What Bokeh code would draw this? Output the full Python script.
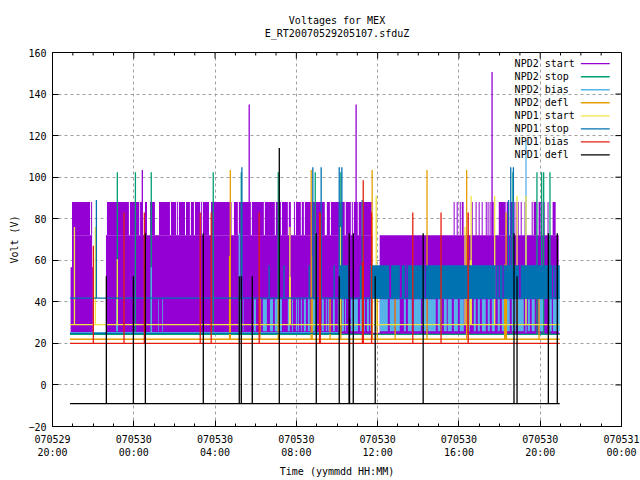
from bokeh.plotting import figure
from bokeh.embed import file_html
from bokeh.resources import INLINE
from bokeh.models import FixedTicker, Label, Range1d, Title

FONT = "DejaVu Sans Mono"
# x values: hours after 070529 20:00
x_major = [0, 4, 8, 12, 16, 20, 24, 28]
x_minor = [h for h in range(29) if h % 4]
x_labels = ["070529\n20:00", "070530\n00:00", "070530\n04:00", "070530\n08:00",
            "070530\n12:00", "070530\n16:00", "070530\n20:00", "070531\n00:00"]
y_major = [-20, 0, 20, 40, 60, 80, 100, 120, 140, 160]

names = ["NPD2 start", "NPD2 stop", "NPD2 bias", "NPD2 defl",
         "NPD1 start", "NPD1 stop", "NPD1 bias", "NPD1 defl"]
colors = ["#9400D3", "#009E73", "#56B4E9", "#E69F00",
          "#F0E442", "#0072B2", "#E51E10", "#000000"]

T0, T1 = 0.86, 24.96

# NPD2 start
npd2_start_low = [(0.96, 1.95), (2.63, 15.76), (16.10, 24.91)]
npd2_start_mid = [(0.89, 0.96), (1.95, 2.00)]
npd2_start_high = [(0.96, 1.85), (1.90, 1.95), (2.68, 3.76), (3.81, 4.27), (4.31, 4.45), (4.55, 4.65),
    (4.80, 5.04), (5.24, 5.78), (5.83, 6.08), (6.12, 6.17), (6.22, 6.52), (6.57, 6.76), (6.81, 6.96),
    (7.01, 7.26), (7.30, 7.35), (7.40, 7.70), (7.80, 8.81), (8.93, 9.12), (9.17, 9.76), (9.81, 10.40),
    (10.45, 10.94), (10.99, 11.24), (11.29, 11.58), (11.63, 11.73), (11.88, 11.93), (11.98, 12.22),
    (12.27, 12.37), (12.42, 13.40), (13.50, 13.65), (13.70, 14.38), (14.43, 14.68), (14.73, 14.78),
    (14.83, 15.02), (15.07, 15.22), (15.27, 15.71), (19.74, 19.79), (19.89, 19.94), (20.04, 20.09),
    (20.14, 20.23), (20.63, 20.68), (20.82, 20.87), (20.97, 21.02), (21.12, 21.17), (21.32, 21.37),
    (21.41, 21.46), (21.51, 21.56), (21.61, 21.71), (21.96, 22.30), (22.35, 22.45), (22.50, 22.74),
    (22.79, 22.84), (22.89, 22.94), (23.04, 23.09), (23.23, 23.28), (23.58, 23.63), (23.68, 23.82),
    (23.92, 24.02), (24.12, 24.22), (24.36, 24.41), (24.61, 24.76)]
npd2_start_spike_t = [4.42, 9.68, 14.94, 21.63]
npd2_start_spike_v = [103.4, 135, 135, 150.6]

# NPD2 stop
npd2_stop_spike_t = [3.19, 4.08, 4.86, 7.91, 9.29, 11.11, 12.93, 14.19, 22.66, 23.84, 24.07, 24.17, 24.48]
npd2_stop_spike_v = [102.4] * 13

# NPD2 bias
npd2_bias_blocks = [(3.13, 3.22), (5.21, 5.24), (5.40, 5.44), (9.22, 9.27), (9.37, 9.40), (9.91, 10.01),
    (10.35, 10.55), (10.70, 10.85), (10.94, 11.29), (11.58, 11.68), (11.78, 11.83), (11.98, 12.03),
    (12.07, 12.12), (12.22, 12.27), (12.37, 12.47), (12.57, 12.66), (12.76, 12.91), (13.25, 13.35),
    (13.45, 13.50), (13.55, 13.60), (13.80, 13.89), (14.04, 14.09), (14.24, 14.34), (14.39, 14.44),
    (14.68, 15.03), (15.13, 15.23), (15.32, 15.37), (15.47, 15.57), (15.62, 15.67), (15.86, 15.95),
    (16.11, 16.50), (16.60, 16.83), (16.90, 17.09), (17.29, 17.39), (17.49, 17.68), (17.78, 18.13),
    (18.22, 18.42), (18.47, 18.86), (18.96, 19.16), (19.26, 19.40), (19.45, 19.65), (19.75, 19.95),
    (20.04, 20.24), (20.44, 20.54), (20.73, 20.83), (20.93, 21.03), (21.13, 21.32), (21.42, 21.52),
    (21.62, 21.77), (21.91, 22.01), (22.11, 22.50), (22.60, 22.80), (22.90, 23.19), (23.39, 23.49),
    (23.58, 23.73), (23.93, 24.14), (24.47, 24.57), (24.63, 24.83), (24.86, 24.96)]
npd2_bias_spike_t = [4.86, 9.19, 23.30]
npd2_bias_spike_v = [56.7, 73, 117.8]

# NPD2 defl
npd2_defl_blocks = [(8.68, 8.78, 62), (12.75, 12.81, 62), (22.27, 22.37, 41.5)]
npd2_defl_spike_t = [8.75, 12.73, 15.73, 18.43, 20.38, 22.32, 10.21, 11.11, 13.66, 14.19, 15.98, 16.86, 23.94, 22.25]
npd2_defl_spike_v = [103.4, 103.4, 103.4, 103.4, 103.4, 83, 41.5, 41.5, 41.5, 41.5, 41.5, 41.5, 41.5, 58]

# NPD1 start
npd1_start_blocks = [(11.64, 11.73, 52), (20.53, 20.63, 60)]
npd1_start_spike_t = [1.08, 2.11, 3.19, 11.68, 14.16, 15.93, 20.30, 20.60, 21.76, 22.86, 23.30]
npd1_start_spike_v = [76, 76, 60.5, 76, 76, 91, 76, 91, 91, 91, 91]

# NPD1 stop
npd1_stop_blocks = [(14.14, 14.55), (15.12, 15.22), (15.62, 16.57), (16.66, 17.09), (17.19, 17.34),
    (17.39, 17.43), (17.48, 18.32), (18.37, 21.81), (21.86, 21.96), (22.01, 22.15), (22.20, 22.96),
    (23.04, 24.58), (24.63, 24.71), (24.76, 24.96)]
npd1_stop_spike_t = [2.16, 9.32, 12.81, 13.22, 14.11, 14.24, 15.24, 10.66, 11.39, 12.63, 13.86, 22.44, 22.55, 22.68]
npd1_stop_spike_v = [89, 104.8, 104.8, 104.8, 104.8, 104.8, 89, 57.6, 57.6, 57.6, 57.6, 89, 104.8, 104.8]

# NPD1 bias
npd1_bias_blocks = [(13.11, 13.21, 83), (15.22, 15.32, 59), (20.42, 20.49, 83)]
npd1_bias_spike_t = [2.01, 3.52, 4.52, 7.27, 7.81, 10.17, 15.29, 15.70, 17.73, 19.12]
npd1_bias_spike_v = [67, 83, 83, 83, 83, 83, 98.5, 83, 83, 83]

# NPD1 defl
npd1_defl_blocks = [(14.58, 14.65, 32)]
npd1_defl_spike_t = [2.65, 3.98, 4.57, 7.42, 9.19, 9.29, 9.83, 11.16, 12.98, 14.11, 14.60, 14.80, 15.88, 18.24, 22.71, 22.86, 24.40, 24.84]
npd1_defl_spike_v = [52.3, 52.3, 73, 73, 52.3, 52.3, 52.3, 114, 73, 52.3, 73, 73, 52.3, 73, 73, 52.3, 73, 73]

p = figure(frame_width=569, frame_height=374, output_backend="svg", toolbar_location=None,
           x_range=Range1d(0, 28), y_range=Range1d(-20, 160),
           min_border_left=52, min_border_right=19, min_border_top=52, min_border_bottom=54)
p.outline_line_color = "black"
p.outline_line_width = 1
p.background_fill_color = "white"
p.border_fill_color = "white"

def style_axis(ax, major, minor):
    ax.ticker = FixedTicker(ticks=major, minor_ticks=minor)
    ax.major_tick_in = 6
    ax.major_tick_out = 0
    ax.minor_tick_in = 3
    ax.minor_tick_out = 0
    ax.axis_line_color = "black"
    ax.major_tick_line_color = "black"
    ax.minor_tick_line_color = "black"
    ax.major_label_text_font = FONT
    ax.major_label_text_font_size = "10px"
    ax.major_label_text_color = "black"
    ax.axis_label_text_font = FONT
    ax.axis_label_text_font_size = "10px"
    ax.axis_label_text_font_style = "normal"
    ax.axis_label_text_color = "black"

style_axis(p.xaxis[0], x_major, x_minor)
p.xaxis[0].major_label_overrides = dict(zip(x_major, x_labels))
p.xaxis[0].major_label_standoff = 7
p.xaxis[0].axis_label = "Time (yymmdd HH:MM)"
p.xaxis[0].axis_label_standoff = 5
style_axis(p.yaxis[0], y_major, [])
p.yaxis[0].major_label_standoff = 6
p.yaxis[0].axis_label = "Volt (V)"
p.yaxis[0].axis_label_standoff = 5

p.add_layout(Title(text="\u00a0\u00a0\u00a0\u00a0Voltages for MEX\nE_RT20070529205107.sfduZ", align="center",
                   text_font=FONT, text_font_size="10px", text_font_style="normal",
                   text_color="black", text_line_height=1.2, standoff=26), "above")

for g in (p.xgrid[0], p.ygrid[0]):
    g.grid_line_color = "#a0a0a0"
    g.grid_line_dash = "3 3"
    g.grid_line_width = 1
p.xgrid[0].ticker = FixedTicker(ticks=x_major[1:-1])
p.ygrid[0].ticker = FixedTicker(ticks=y_major[1:-1])

LW = 1.3

def base(color, level, t0=T0, t1=T1):
    p.line([t0, t1], [level, level], line_color=color, line_width=LW)

def band(color, spans, low, high):
    p.quad(left=[s[0] for s in spans], right=[s[1] for s in spans],
           bottom=[low] * len(spans), top=[high] * len(spans),
           fill_color=color, line_color=None)

def tall(color, blocks, low):
    p.quad(left=[b[0] for b in blocks], right=[b[1] for b in blocks],
           bottom=[low] * len(blocks), top=[b[2] for b in blocks],
           fill_color=color, line_color=None)

def spikes(color, ts, vs, low):
    p.segment(x0=ts, x1=ts, y0=[low] * len(ts), y1=vs, line_color=color, line_width=LW)

# Mirrored ticks on the top and right sides of the box
p.segment(x0=x_major, x1=x_major, y0=[160] * 8, y1=[157.1] * 8, line_color="black", line_width=1)
p.segment(x0=x_minor, x1=x_minor, y0=[160] * len(x_minor), y1=[158.55] * len(x_minor), line_color="black", line_width=1)
p.segment(x0=[28] * 10, x1=[27.7] * 10, y0=y_major, y1=y_major, line_color="black", line_width=1)

# NPD2 start
c = colors[0]
base(c, 24.8)
band(c, npd2_start_low, 24.8, 72)
band(c, npd2_start_mid, 24.8, 56.7)
band(c, npd2_start_high, 72, 88)
spikes(c, npd2_start_spike_t, npd2_start_spike_v, 24.8)
# NPD2 stop
c = colors[1]
base(c, 24.3)
spikes(c, npd2_stop_spike_t, npd2_stop_spike_v, 24.3)
# NPD2 bias
c = colors[2]
base(c, 25.2, T0, 14.14)
band(c, npd2_bias_blocks, 25.8, 41.2)
spikes(c, npd2_bias_spike_t, npd2_bias_spike_v, 25.2)
# NPD2 defl
c = colors[3]
base(c, 22)
tall(c, npd2_defl_blocks, 22)
spikes(c, npd2_defl_spike_t, npd2_defl_spike_v, 22)
# NPD1 start
c = colors[4]
base(c, 29)
tall(c, npd1_start_blocks, 29)
spikes(c, npd1_start_spike_t, npd1_start_spike_v, 29)
# NPD1 stop
c = colors[5]
base(c, 41.8)
base(c, 24.8, T0, 14.14)
band(c, npd1_stop_blocks, 41.5, 57.6)
spikes(c, npd1_stop_spike_t, npd1_stop_spike_v, 41.8)
# NPD1 bias
c = colors[6]
base(c, 20)
tall(c, npd1_bias_blocks, 20)
spikes(c, npd1_bias_spike_t, npd1_bias_spike_v, 20)
# NPD1 defl
c = colors[7]
base(c, -9)
tall(c, npd1_defl_blocks, -9)
spikes(c, npd1_defl_spike_t, npd1_defl_spike_v, -9)

# Key, placed in plot coordinates
key_top, key_step = 154.6, 6.265
for i, (name, col) in enumerate(zip(names, colors)):
    yy = key_top - i * key_step
    p.line([26.0, 27.42], [yy, yy], line_color=col, line_width=LW)
    p.add_layout(Label(x=22.74, y=yy, text=name, text_font=FONT, text_font_size="10px",
                       text_color="black", text_baseline="middle", text_align="left"))

open("out.html", "w").write(file_html(p, INLINE))
